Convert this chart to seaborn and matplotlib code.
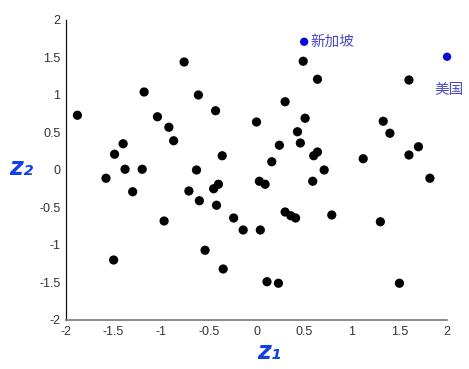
import matplotlib
matplotlib.use("Agg")
import matplotlib.pyplot as plt
import seaborn as sns
import pandas as pd

# data points (z1, z2)
z1 = [-1.88, -1.58, -1.49, -1.40, -1.38, -1.30, -1.20, -1.18, -1.04, -0.97,
      -0.92, -0.87, -0.76, -0.71, -0.61, -0.63, -0.60, -0.54, -0.45, -0.43,
      -0.42, -0.40, -0.36, -0.35, -0.24, -0.14, 0.00, 0.03, 0.04, 0.09,
      0.11, 0.16, 0.23, 0.24, 0.30, 0.30, 0.36, 0.41, 0.43, 0.46,
      0.49, 0.51, 0.60, 0.64, 0.59, 0.64, 0.71, 0.79, 1.12, 1.30,
      1.33, 1.40, 1.50, 1.60, 1.60, 1.70, 1.82, -1.50]
z2 = [0.73, -0.11, 0.21, 0.35, 0.01, -0.29, 0.01, 1.04, 0.71, -0.68,
      0.57, 0.39, 1.44, -0.28, 1.00, 0.00, -0.41, -1.07, -0.25, 0.79,
      -0.47, -0.19, 0.19, -1.32, -0.64, -0.80, 0.64, -0.15, -0.80, -0.19,
      -1.49, 0.11, -1.51, 0.33, 0.91, -0.56, -0.61, -0.64, 0.51, 0.36,
      1.45, 0.69, 0.19, 0.24, -0.15, 1.21, 0.00, -0.60, 0.15, -0.69,
      0.65, 0.49, -1.51, 1.20, 0.20, 0.31, -0.11, -1.20]

hl_names = ["新加坡", "美国"]
hl_z1 = [0.50, 2.00]
hl_z2 = [1.71, 1.51]

ticks = [-2, -1.5, -1, -0.5, 0, 0.5, 1, 1.5, 2]
tick_labels = ["-2", "-1.5", "-1", "-0.5", "0", "0.5", "1", "1.5", "2"]

sns.set_theme(style="white")
plt.rcParams['font.family'] = ['Noto Sans CJK SC', 'DejaVu Sans']

fig = plt.figure(figsize=(4.69, 3.69), dpi=100)
ax = fig.add_axes([0.1407, 0.1328, 0.8125, 0.8130])

df = pd.DataFrame({"z1": z1, "z2": z2})
sns.scatterplot(data=df, x="z1", y="z2", color="black", s=44, edgecolor="none", ax=ax)
hl = pd.DataFrame({"z1": hl_z1, "z2": hl_z2, "name": hl_names})
sns.scatterplot(data=hl, x="z1", y="z2", color="#0a0ad0", s=36, edgecolor="none", ax=ax, clip_on=False)

txtc = "#4a4ac8"
ax.text(hl_z1[0] + 0.07, hl_z2[0], hl_names[0], color=txtc, fontsize=10.5, va="center", ha="left")
ax.text(hl_z1[1] + 0.02, hl_z2[1] - 0.44, hl_names[1], color=txtc, fontsize=10.5, va="center", ha="center")

ax.set_xlim(-2, 2)
ax.set_ylim(-2, 2)
ax.set_xticks(ticks)
ax.set_xticklabels(tick_labels, family=["Liberation Sans"])
ax.set_yticks(ticks)
ax.set_yticklabels(tick_labels, family=["Liberation Sans"])
ax.tick_params(direction="in", length=4, width=0.8, labelsize=9, labelcolor="#333333",
               colors="#555555", pad=4)
ax.tick_params(axis="x", colors="#666666", labelcolor="#333333")
ax.tick_params(axis="y", colors="#222222", labelcolor="#333333")
for s in ["top", "right"]:
    ax.spines[s].set_visible(False)
ax.spines["left"].set_color("#111111")
ax.spines["bottom"].set_color("#777777")
ax.spines["left"].set_linewidth(0.9)
ax.spines["bottom"].set_linewidth(1.2)

ax.set_xlabel("")
ax.set_ylabel("")
blue = "#1040e8"
fig.text(0.575, 0.045, "z\u2081", color=blue, fontsize=17, fontstyle="italic",
         ha="center", va="center", family=["DejaVu Sans"], fontweight="bold")
fig.text(0.045, 0.545, "z\u2082", color=blue, fontsize=17, fontstyle="italic",
         ha="center", va="center", family=["DejaVu Sans"], fontweight="bold")

fig.savefig("out.png", dpi=100, facecolor="white")
